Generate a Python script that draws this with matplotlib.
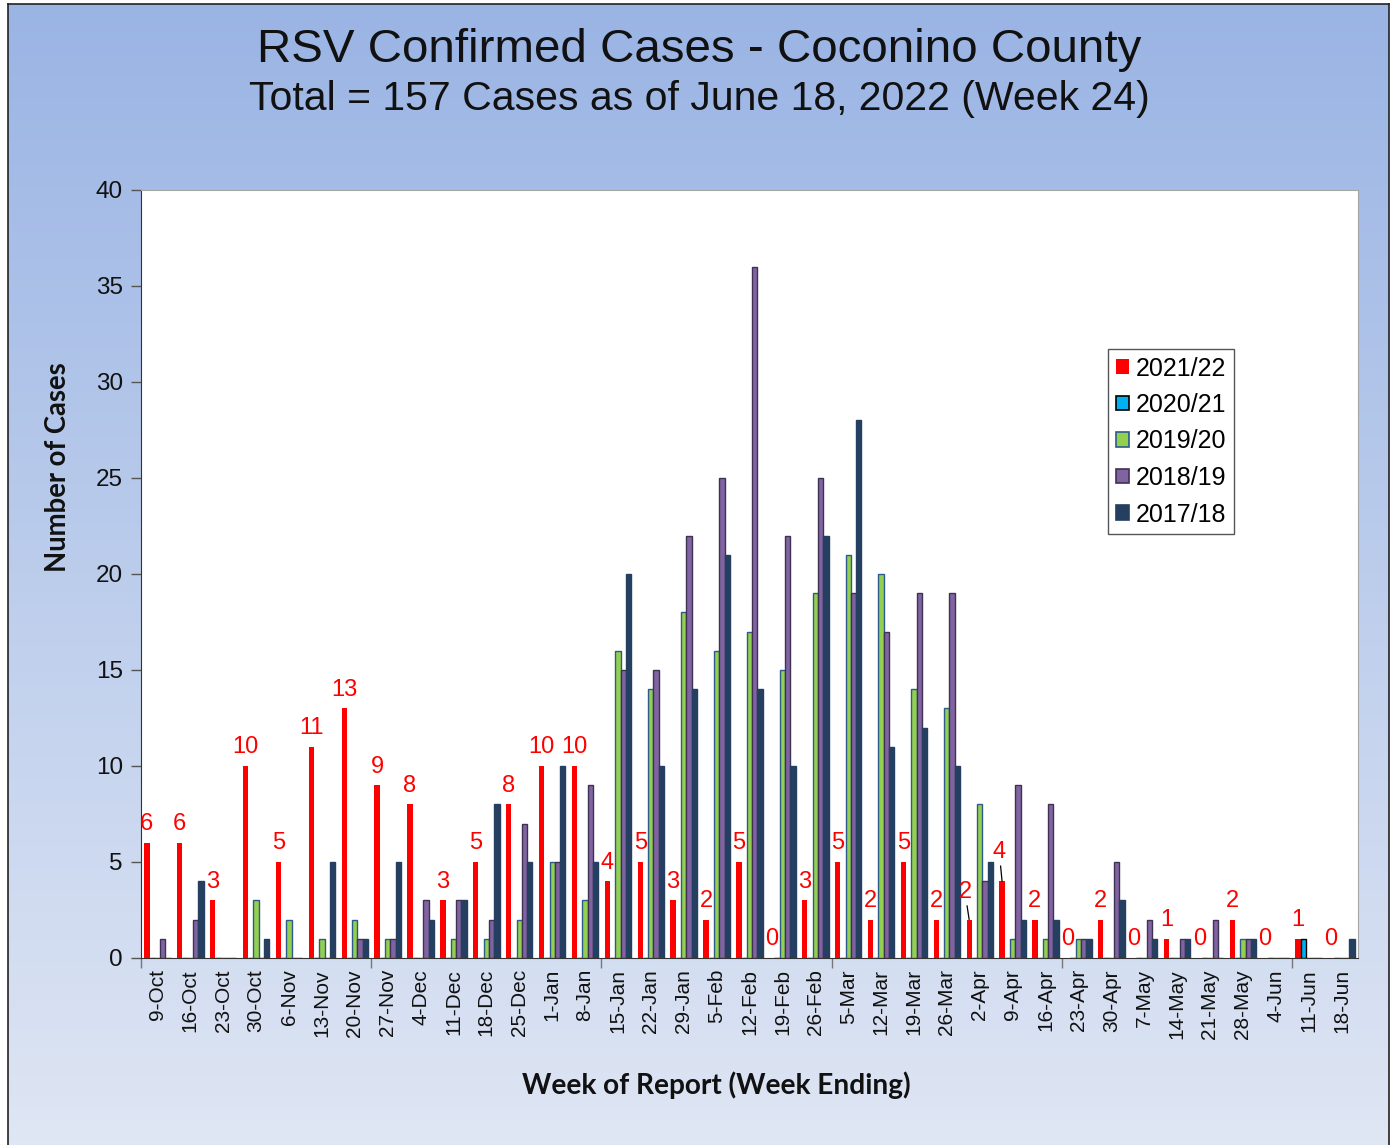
import numpy as np
import matplotlib
matplotlib.use("Agg")
import matplotlib.pyplot as plt
from matplotlib.patches import Patch
from matplotlib.colors import LinearSegmentedColormap

# Week-ending dates for the reporting season
weeks = ["9-Oct", "16-Oct", "23-Oct", "30-Oct", "6-Nov", "13-Nov", "20-Nov",
         "27-Nov", "4-Dec", "11-Dec", "18-Dec", "25-Dec", "1-Jan", "8-Jan",
         "15-Jan", "22-Jan", "29-Jan", "5-Feb", "12-Feb", "19-Feb", "26-Feb",
         "5-Mar", "12-Mar", "19-Mar", "26-Mar", "2-Apr", "9-Apr", "16-Apr",
         "23-Apr", "30-Apr", "7-May", "14-May", "21-May", "28-May", "4-Jun",
         "11-Jun", "18-Jun"]

# Confirmed RSV cases per week, one list per season
s2021_22 = [6, 6, 3, 10, 5, 11, 13, 9, 8, 3, 5, 8, 10, 10, 4, 5, 3, 2, 5, 0,
            3, 5, 2, 5, 2, 2, 4, 2, 0, 2, 0, 1, 0, 2, 0, 1, 0]
s2020_21 = [0, 0, 0, 0, 0, 0, 0, 0, 0, 0, 0, 0, 0, 0, 0, 0, 0, 0, 0, 0,
            0, 0, 0, 0, 0, 0, 0, 0, 0, 0, 0, 0, 0, 0, 0, 1, 0]
s2019_20 = [0, 0, 0, 3, 2, 1, 2, 1, 0, 1, 1, 2, 5, 3, 16, 14, 18, 16, 17, 15,
            19, 21, 20, 14, 13, 8, 1, 1, 1, 0, 0, 0, 0, 1, 0, 0, 0]
s2018_19 = [1, 2, 0, 0, 0, 0, 1, 1, 3, 3, 2, 7, 5, 9, 15, 15, 22, 25, 36, 22,
            25, 19, 17, 19, 19, 4, 9, 8, 1, 5, 2, 1, 2, 1, 0, 0, 0]
s2017_18 = [0, 4, 0, 1, 0, 5, 1, 5, 2, 3, 8, 5, 10, 5, 20, 10, 14, 21, 14, 10,
            22, 28, 11, 12, 10, 5, 2, 2, 1, 3, 1, 1, 0, 1, 0, 0, 1]

season_names = ["2021/22", "2020/21", "2019/20", "2018/19", "2017/18"]
season_data = [s2021_22, s2020_21, s2019_20, s2018_19, s2017_18]
face_colors = ["#FF0000", "#00B0F0", "#92D050", "#8064A2", "#243F60"]
edge_colors = ["#FF0000", "#000000", "#2E5A8A", "#3F3151", "#243F60"]

W, H = 1396, 1145
fig = plt.figure(figsize=(W / 100, H / 100), dpi=100)
fig.patch.set_facecolor("white")

# Gradient panel behind the chart
bg = fig.add_axes([8 / W, 0, (1389 - 8) / W, (H - 4) / H])
grad = np.linspace(0, 1, 256).reshape(-1, 1)
cmap = LinearSegmentedColormap.from_list("panel", ["#9AB4E4", "#BCCDEC", "#DFE6F4"])
bg.imshow(grad, aspect="auto", cmap=cmap, extent=[0, 1, 0, 1], origin="upper")
bg.set_xlim(0, 1)
bg.set_ylim(0, 1)
bg.set_xticks([])
bg.set_yticks([])
for s in bg.spines.values():
    s.set_color("#222222")
    s.set_linewidth(1.2)
bg.spines["bottom"].set_visible(False)

# Plot area
ax = fig.add_axes([141 / W, 1 - 958 / H, (1358 - 141) / W, (958 - 190) / H])
ax.set_facecolor("white")

n = len(weeks)
x = np.arange(n)
bw = 0.161
for k, (name, vals, fc, ec) in enumerate(zip(season_names, season_data,
                                             face_colors, edge_colors)):
    lw = 0 if k == 0 else 1.0
    ax.bar(x + (k - 2) * bw, vals, width=bw, color=fc, edgecolor=ec,
           linewidth=lw, label=name, zorder=3)

ax.set_xlim(-0.5, n - 0.5)
ax.set_ylim(0, 40)
ax.set_yticks(np.arange(0, 41, 5))
ax.tick_params(axis="y", labelsize=17.5, length=7, width=1, color="#555555",
               pad=6, labelcolor="#111111")
ax.set_xticks(x)
ax.set_xticklabels(weeks, rotation=90, fontsize=15, color="#111111")
ax.tick_params(axis="x", length=0, pad=8)
ax.set_xticks(np.arange(-0.5, n, 7), minor=True)
ax.tick_params(axis="x", which="minor", length=7, width=1, color="#777777")
for lab in ax.get_xticklabels() + ax.get_yticklabels():
    lab.set_family(["Liberation Sans", "DejaVu Sans"])

ax.spines["left"].set_color("#333333")
ax.spines["bottom"].set_color("#333333")
ax.spines["top"].set_color("#A6A6A6")
ax.spines["right"].set_color("#A6A6A6")

# Value labels for the current season
red_x = x - 2 * bw
shifted = {"2-Apr": (-3, 12), "9-Apr": (-2, 13)}
for wk, xi, v in zip(weeks, red_x, s2021_22):
    if wk in shifted:
        dx, dy = shifted[wk]
        ax.annotate(str(v), (xi, v), xytext=(dx, dy), textcoords="offset points",
                    ha="center", va="bottom", color="red", fontsize=17,
                    family="Liberation Sans", zorder=5,
                    arrowprops=dict(arrowstyle="-", color="black", lw=0.9,
                                    shrinkA=0, shrinkB=0))
    else:
        ax.annotate(str(v), (xi, v), xytext=(0, 5.5), textcoords="offset points",
                    ha="center", va="bottom", color="red", fontsize=17,
                    family="Liberation Sans", zorder=5)

handles = [Patch(facecolor=fc, edgecolor=ec, linewidth=(0 if i == 0 else 1.2))
           for i, (fc, ec) in enumerate(zip(face_colors, edge_colors))]
leg = ax.legend(handles, season_names, loc="upper left",
                bbox_to_anchor=((1108 - 141) / 1217, (958 - 349) / 768),
                borderaxespad=0, fancybox=False, framealpha=1,
                edgecolor="#555555", prop={"family": "Liberation Sans", "size": 18},
                handlelength=0.52, handleheight=0.52, handletextpad=0.3,
                labelspacing=0.5, borderpad=0.3)
leg.get_frame().set_linewidth(1.0)
leg.set_zorder(6)

# Titles and axis captions
fig.text(699 / W, 1 - 50 / H, "RSV Confirmed Cases - Coconino County",
         ha="center", va="center", fontsize=34.2, family="Liberation Sans",
         color="#111111")
fig.text(699 / W, 1 - 99 / H, "Total = 157 Cases as of June 18, 2022 (Week 24)",
         ha="center", va="center", fontsize=29.5, family="Liberation Sans",
         color="#111111")
fig.text(58 / W, 1 - 467 / H, "Number of Cases", rotation=90, ha="center",
         va="center", fontsize=19.8, fontweight="bold", family="Lato",
         color="#111111")
fig.text(716 / W, 1 - 1085 / H, "Week of Report (Week Ending)", ha="center",
         va="center", fontsize=20.2, fontweight="bold", family="Lato",
         color="#111111")

fig.savefig("out.png", dpi=100)
